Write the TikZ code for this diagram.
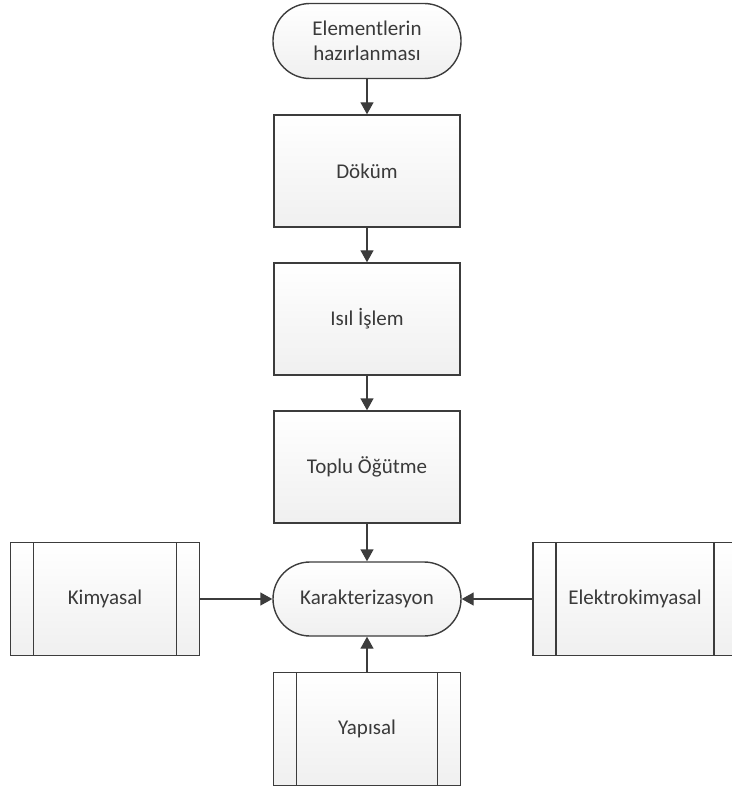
\documentclass[tikz,border=0pt]{standalone}
\usepackage{fontspec}
\setmainfont{Carlito}
\usepackage{tikz}
\usetikzlibrary{arrows.meta}
\usetikzlibrary{positioning}

\definecolor{linegray}{HTML}{3C3C3C}
\definecolor{textgray}{HTML}{3A3A3A}

\tikzset{
    boxfill/.style={draw=linegray, line width=1.4pt, top color=white, bottom color=black!6, text=textgray, font=\fontsize{21}{25}\selectfont},
    process/.style={boxfill, rectangle, minimum width=186pt, minimum height=112pt},
    terminal/.style={boxfill, rectangle, rounded corners=37pt, minimum width=188pt, minimum height=75pt, align=center},
    subproc/.style={boxfill, rectangle, minimum height=113pt,
        path picture={
            \draw[linegray, line width=1.4pt] ([xshift=23pt]path picture bounding box.north west) -- ([xshift=23pt]path picture bounding box.south west);
            \draw[linegray, line width=1.4pt] ([xshift=-23pt]path picture bounding box.north east) -- ([xshift=-23pt]path picture bounding box.south east);
        }},
}

\begin{document}
\begin{tikzpicture}[node distance=148pt,auto,>={Triangle[length=12pt,width=13pt]}]

            \useasboundingbox (0,0) rectangle (731pt,-791pt);

            % Main flow
            \node [terminal] (hazir) at (367pt,-41pt) {Elementlerin\\hazırlanması};
            \node [below of=hazir, node distance=130pt, process] (dokum) {Döküm};
            \node [below of=dokum, process] (isil) {Isıl İşlem};
            \node [below of=isil, process] (ogutme) {Toplu Öğütme};
            \node [below of=ogutme, node distance=132pt, terminal, minimum height=74pt] (karak) {Karakterizasyon};

            % Characterisation methods
            \node [left of=karak, node distance=262pt, subproc, minimum width=189pt] (kimya) {Kimyasal};
            \node [right of=karak, node distance=268pt, subproc, minimum width=204pt] (elektro) {Elektrokimyasal};
            \node [below of=karak, node distance=130pt, subproc, minimum width=187pt] (yapi) {Yapısal};

            % Connections
            \draw [->, linegray, line width=1.4pt] (hazir) -- (dokum);
            \draw [->, linegray, line width=1.4pt] (dokum) -- (isil);
            \draw [->, linegray, line width=1.4pt] (isil) -- (ogutme);
            \draw [->, linegray, line width=1.4pt] (ogutme) -- (karak);
            \draw [->, linegray, line width=1.4pt] (kimya) -- (karak);
            \draw [->, linegray, line width=1.4pt] (elektro) -- (karak);
            \draw [->, linegray, line width=1.4pt] (yapi) -- (karak);

        \end{tikzpicture}
\end{document}
